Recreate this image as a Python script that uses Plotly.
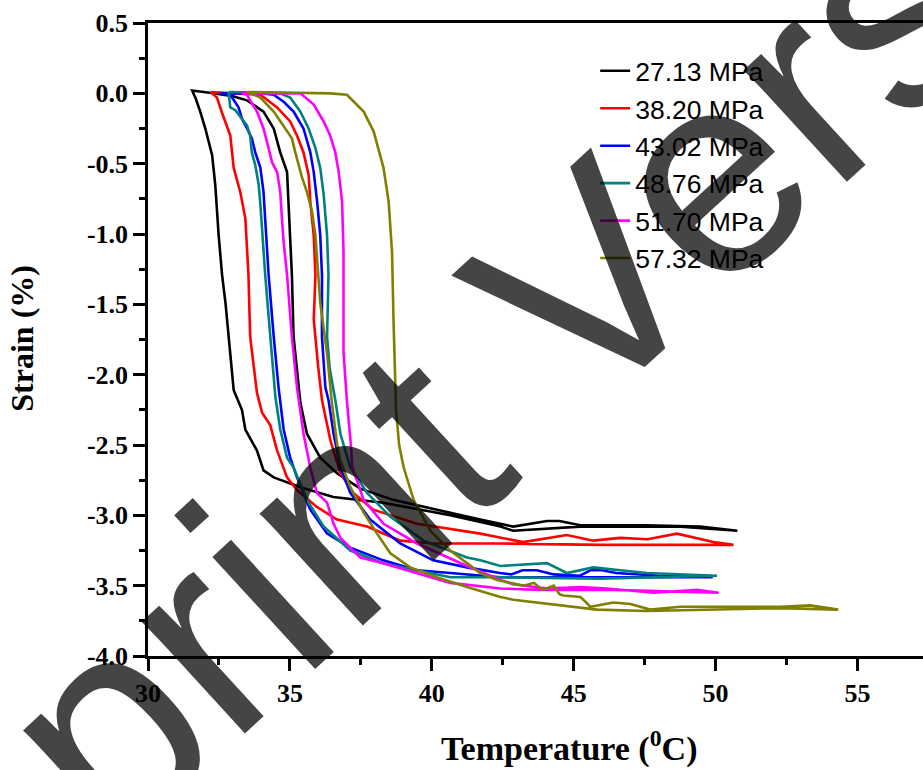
import plotly.graph_objects as go

# ---------------- data ----------------
labels = ["27.13 MPa", "38.20 MPa", "43.02 MPa", "48.76 MPa", "51.70 MPa", "57.32 MPa"]
colors = ["#000000", "#FF0000", "#0000FF", "#008080", "#FF00FF", "#808000"]

T_2713 = [33.49, 33.00, 32.30, 31.56, 31.62, 31.67, 31.84, 32.02, 32.26, 32.37,
          32.49, 32.61, 32.73, 32.90, 33.02, 33.31, 33.43, 33.84, 34.07, 34.43,
          35.37, 36.53, 38.29, 40.65, 42.42, 42.87, 45.24, 48.76, 50.77, 49.46,
          47.50, 45.23, 44.50, 44.06, 43.50, 42.87, 41.71, 40.18, 38.64, 37.48,
          36.66, 36.07, 35.60, 35.37, 35.13, 35.07, 35.01, 34.95, 34.90, 34.66,
          34.43, 34.07, 33.49]
S_2713 = [-0.05, -0.02, 0.00, 0.02, -0.01, -0.03, -0.13, -0.25, -0.44, -0.65,
          -1.01, -1.29, -1.49, -1.85, -2.11, -2.25, -2.39, -2.54, -2.68, -2.73,
          -2.80, -2.87, -2.91, -3.00, -3.08, -3.11, -3.08, -3.08, -3.11, -3.08,
          -3.07, -3.07, -3.04, -3.04, -3.06, -3.08, -3.03, -2.96, -2.89, -2.81,
          -2.70, -2.59, -2.42, -2.20, -1.73, -1.29, -1.01, -0.77, -0.56, -0.42,
          -0.25, -0.13, -0.05]

T_3820 = [32.20, 32.43, 32.61, 32.90, 33.02, 33.25, 33.43, 33.54, 33.60, 33.84,
          34.02, 34.31, 34.55, 34.90, 35.25, 35.95, 36.66, 37.72, 38.89, 40.05,
          42.41, 45.94, 50.63, 49.92, 48.64, 47.60, 46.64, 45.69, 44.76, 43.22,
          41.71, 39.48, 37.94, 37.23, 36.78, 36.43, 36.13, 36.00, 35.84, 35.90,
          35.84, 35.72, 35.66, 35.48, 35.25, 35.01, 34.55, 33.96, 33.00, 32.20]
S_3820 = [0.01, -0.03, -0.14, -0.30, -0.53, -0.70, -0.89, -1.29, -1.73, -2.13,
          -2.27, -2.36, -2.54, -2.73, -2.82, -2.94, -3.03, -3.08, -3.18, -3.20,
          -3.20, -3.21, -3.21, -3.19, -3.13, -3.17, -3.16, -3.18, -3.14, -3.19,
          -3.13, -3.06, -2.96, -2.84, -2.70, -2.47, -2.18, -1.95, -1.61, -1.29,
          -1.01, -0.77, -0.58, -0.42, -0.30, -0.20, -0.10, -0.01, 0.00, 0.01]

T_4302 = [32.55, 32.90, 33.19, 33.31, 33.49, 33.66, 33.78, 33.96, 34.07, 34.13,
          34.19, 34.25, 34.43, 34.60, 34.78, 35.01, 35.25, 35.72, 36.31, 37.13,
          38.29, 39.48, 40.65, 42.42, 45.24, 48.76, 49.90, 48.00, 46.50, 46.00,
          45.60, 45.20, 44.30, 43.70, 43.20, 42.80, 42.40, 41.24, 40.05, 38.89,
          37.83, 37.13, 36.78, 36.54, 36.36, 36.25, 36.13, 36.13, 36.07, 35.96,
          35.84, 35.72, 35.48, 35.13, 34.78, 34.43, 33.96, 32.55]
S_4302 = [0.00, -0.01, -0.10, -0.18, -0.25, -0.32, -0.42, -0.53, -0.70, -0.89,
          -1.08, -1.29, -1.73, -2.09, -2.39, -2.59, -2.73, -2.96, -3.13, -3.23,
          -3.32, -3.39, -3.41, -3.44, -3.44, -3.44, -3.44, -3.43, -3.41, -3.39,
          -3.39, -3.43, -3.42, -3.39, -3.39, -3.42, -3.41, -3.37, -3.32, -3.20,
          -3.03, -2.84, -2.66, -2.42, -2.18, -2.09, -1.73, -1.29, -1.01, -0.77,
          -0.56, -0.42, -0.25, -0.13, -0.06, -0.01, 0.00, 0.00]

T_4876 = [32.84, 32.90, 33.08, 33.31, 33.49, 33.60, 33.66, 33.78, 33.90, 33.96,
          34.02, 34.13, 34.31, 34.49, 34.66, 34.90, 35.13, 35.60, 36.19, 37.13,
          38.29, 39.48, 40.65, 42.42, 45.94, 50.05, 47.58, 46.64, 45.69, 44.76,
          44.06, 42.42, 41.71, 41.24, 39.71, 38.54, 37.72, 37.13, 36.78, 36.60,
          36.40, 36.31, 36.36, 36.31, 36.19, 36.07, 35.90, 35.66, 35.37, 35.01,
          34.66, 32.84]
S_4876 = [0.01, -0.10, -0.12, -0.18, -0.23, -0.30, -0.42, -0.51, -0.65, -0.79,
          -0.99, -1.29, -1.73, -2.16, -2.39, -2.59, -2.66, -2.89, -3.08, -3.25,
          -3.34, -3.39, -3.44, -3.44, -3.45, -3.43, -3.41, -3.39, -3.37, -3.41,
          -3.34, -3.36, -3.32, -3.30, -3.18, -3.01, -2.84, -2.66, -2.42, -2.18,
          -1.95, -1.73, -1.29, -1.01, -0.72, -0.53, -0.39, -0.25, -0.13, -0.03,
          0.00, 0.01]

T_5170 = [33.31, 33.49, 33.84, 34.07, 34.25, 34.37, 34.55, 34.66, 34.72, 34.78,
          34.90, 35.07, 35.25, 35.37, 35.48, 35.72, 35.95, 36.31, 36.54, 36.78,
          37.48, 38.29, 39.48, 40.65, 42.42, 43.82, 46.40, 50.11, 49.34, 47.82,
          46.17, 45.23, 44.06, 42.87, 42.42, 41.24, 39.48, 38.30, 37.60, 37.20,
          37.15, 37.01, 36.89, 36.89, 36.89, 36.84, 36.72, 36.60, 36.42, 36.19,
          35.84, 35.37, 33.31]
S_5170 = [0.00, -0.01, -0.13, -0.25, -0.39, -0.49, -0.56, -0.70, -0.89, -1.06,
          -1.29, -1.73, -2.09, -2.25, -2.42, -2.66, -2.84, -2.91, -3.06, -3.16,
          -3.30, -3.34, -3.41, -3.48, -3.52, -3.53, -3.53, -3.55, -3.53, -3.55,
          -3.52, -3.51, -3.52, -3.49, -3.46, -3.36, -3.20, -3.06, -2.89, -2.66,
          -2.50, -2.19, -1.84, -1.29, -1.13, -0.77, -0.56, -0.42, -0.30, -0.20,
          -0.08, 0.00, 0.00]

T_5732 = [33.49, 33.96, 34.43, 34.78, 35.07, 35.19, 35.31, 35.43, 35.60, 35.78,
          35.90, 36.01, 36.07, 36.31, 36.48, 36.66, 36.78, 37.13, 37.60, 38.07,
          38.54, 39.24, 40.18, 41.24, 42.42, 42.87, 44.63, 45.82, 47.58, 49.92,
          52.28, 54.32, 53.33, 52.28, 50.52, 48.76, 47.70, 47.00, 46.40, 45.59,
          45.24, 44.64, 44.50, 44.30, 43.90, 43.60, 43.24, 42.30, 41.71, 40.65,
          39.95, 39.36, 39.01, 38.85, 38.74, 38.69, 38.65, 38.60, 38.48, 38.30,
          37.95, 37.60, 37.01, 36.42, 33.49]
S_5732 = [0.01, -0.03, -0.13, -0.23, -0.32, -0.42, -0.51, -0.60, -0.70, -0.84,
          -1.01, -1.29, -1.49, -1.85, -2.20, -2.49, -2.61, -2.80, -2.98, -3.13,
          -3.27, -3.37, -3.44, -3.51, -3.58, -3.60, -3.64, -3.67, -3.68, -3.67,
          -3.66, -3.67, -3.64, -3.65, -3.65, -3.65, -3.67, -3.63, -3.62, -3.65,
          -3.58, -3.57, -3.56, -3.50, -3.53, -3.48, -3.50, -3.46, -3.41, -3.25,
          -3.11, -2.89, -2.66, -2.50, -2.25, -1.95, -1.60, -1.13, -0.77, -0.53,
          -0.27, -0.13, -0.01, 0.00, 0.01]

temps = [T_2713, T_3820, T_4302, T_4876, T_5170, T_5732]
strains = [S_2713, S_3820, S_4302, S_4876, S_5170, S_5732]

x_ticks = [30, 35, 40, 45, 50, 55]
x_ticktext = ["30", "35", "40", "45", "50", "55"]
y_ticks = [0.5, 0.0, -0.5, -1.0, -1.5, -2.0, -2.5, -3.0, -3.5, -4.0]
y_ticktext = ["0.5", "0.0", "-0.5", "-1.0", "-1.5", "-2.0", "-2.5", "-3.0", "-3.5", "-4.0"]

watermark = "Preprint Version"

# ---------------- figure ----------------
SERIF = "Liberation Serif, Times New Roman, serif"
SANS = "Liberation Sans, Arial, sans-serif"

fig = go.Figure()
for name, col, xs, ys in zip(labels, colors, temps, strains):
    fig.add_trace(go.Scatter(x=xs, y=ys, mode="lines", name=name,
                             line=dict(color=col, width=2.6)))

axis_common = dict(
    showline=True, linecolor="black", linewidth=2.5,
    ticks="outside", ticklen=12, tickwidth=2.5, tickcolor="black",
    showgrid=False, zeroline=False,
    tickfont=dict(family=SERIF, size=26, color="black", weight="bold"),
)

fig.update_xaxes(range=[30, 57.31], tickmode="array", tickvals=x_ticks,
                 ticktext=x_ticktext, mirror=True,
                 minor=dict(ticks="outside", ticklen=6, tickwidth=2.5,
                            tickcolor="black", dtick=2.5, tick0=30),
                 **axis_common)
fig.update_yaxes(range=[-4.0, 0.5], tickmode="array", tickvals=y_ticks,
                 ticktext=y_ticktext, mirror=False,
                 minor=dict(ticks="outside", ticklen=6, tickwidth=2.5,
                            tickcolor="black", dtick=0.25, tick0=0),
                 **axis_common)

fig.update_layout(
    width=923, height=770,
    margin=dict(l=148, r=0, t=23, b=114),
    plot_bgcolor="white", paper_bgcolor="white",
    showlegend=True,
    legend=dict(x=0.577, y=0.962, xanchor="left", yanchor="top",
                bgcolor="rgba(0,0,0,0)", borderwidth=0,
                font=dict(family=SANS, size=26.5, color="black"),
                tracegroupgap=0),
    annotations=[
        dict(text="Temperature (<sup>0</sup>C)", xref="paper", yref="paper",
             x=0.543, y=-0.143, showarrow=False, xanchor="center", yanchor="middle",
             font=dict(family=SERIF, size=34, color="black", weight="bold")),
        dict(text="Strain (%)", xref="paper", yref="paper", textangle=-90,
             x=-0.162, y=0.502, showarrow=False, xanchor="center", yanchor="middle",
             font=dict(family=SERIF, size=32, color="black", weight="bold")),
        dict(text=watermark, xref="paper", yref="paper", textangle=-42.5,
             x=0.4155, y=0.415, showarrow=False, xanchor="center", yanchor="middle",
             font=dict(family=SANS, size=288, color="rgba(0,0,0,0.73)")),
    ],
)

fig.write_html("out.html")
